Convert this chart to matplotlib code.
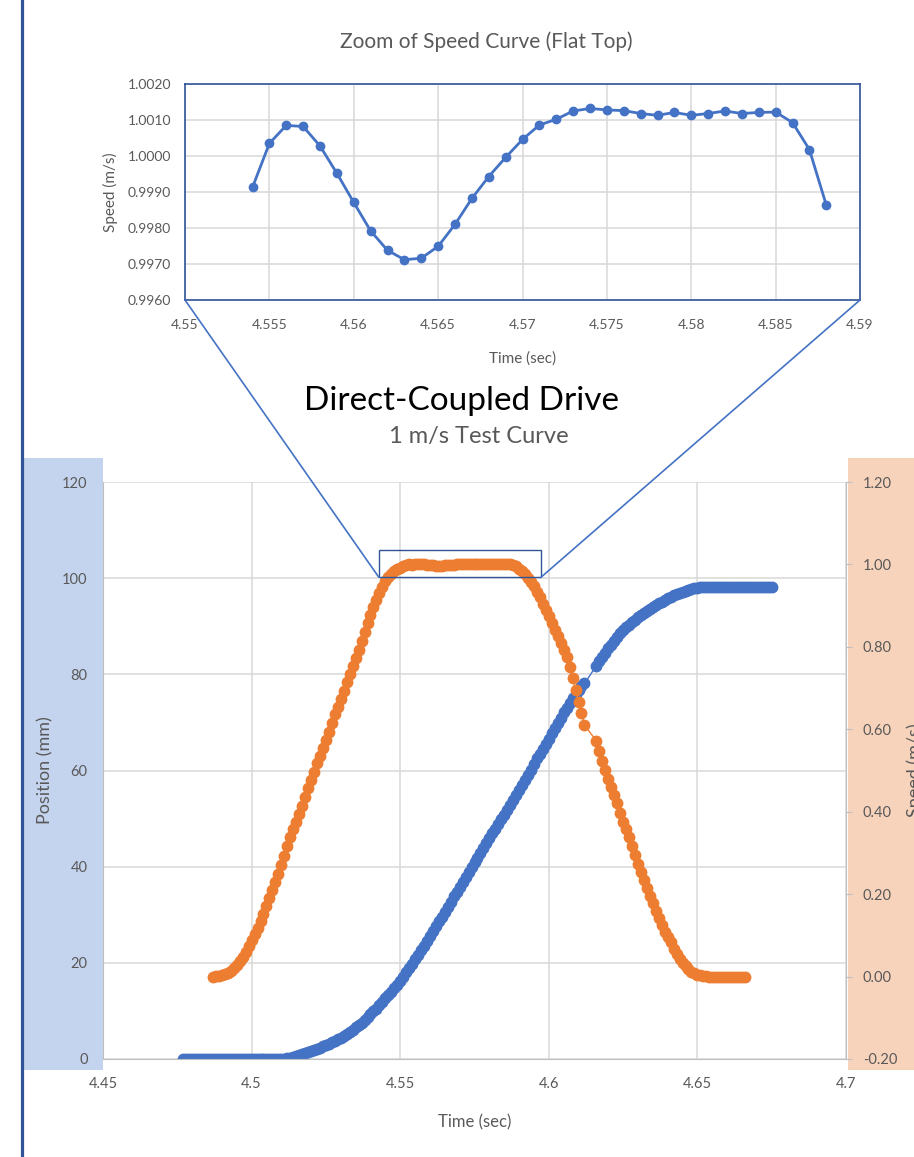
import matplotlib.pyplot as plt
import numpy as np
from matplotlib.patches import Rectangle, ConnectionPatch
from matplotlib.lines import Line2D

plt.rcParams['font.family'] = ['Lato', 'DejaVu Sans']

BLUE = '#4472C4'
ORANGE = '#ED7D31'
GREY = '#595959'
GRID = '#D9D9D9'
AXIS = '#BFBFBF'
FRAME = '#2F5597'

# logged at 1 kHz, a few samples are missing just after 4.612 s
speed_start_a = 4.487
speed_a = [
    0.000, 0.001, 0.002, 0.004, 0.006, 0.009, 0.014, 0.020, 0.028, 0.037,
    0.048, 0.060, 0.074, 0.089, 0.104, 0.119, 0.135, 0.152, 0.171, 0.190,
    0.210, 0.230, 0.250, 0.270, 0.293, 0.316, 0.338, 0.357, 0.376, 0.395,
    0.415, 0.436, 0.457, 0.477, 0.497, 0.517, 0.536, 0.555, 0.574, 0.594,
    0.615, 0.637, 0.655, 0.674, 0.694, 0.714, 0.733, 0.753, 0.772, 0.792,
    0.815, 0.837, 0.857, 0.877, 0.896, 0.914, 0.930, 0.946, 0.959, 0.969,
    0.977, 0.983, 0.988, 0.992, 0.996, 0.999, 1.001,
    # flat top (4.554 .. 4.588), shown in the zoom
    0.99913, 1.00035, 1.00085, 1.00082, 1.00028, 0.99952, 0.99871, 0.99792, 0.99738, 0.99712,
    0.99716, 0.99749, 0.99810, 0.99882, 0.99943, 0.99996, 1.00046, 1.00086, 1.00102, 1.00125,
    1.00132, 1.00128, 1.00126, 1.00118, 1.00113, 1.00121, 1.00113, 1.00118, 1.00125, 1.00118,
    1.00121, 1.00122, 1.00093, 1.00018, 0.99864,
    0.995, 0.990, 0.984, 0.976, 0.968, 0.958, 0.947, 0.934, 0.920, 0.905,
    0.890, 0.874, 0.858, 0.842, 0.826, 0.810, 0.793, 0.776, 0.751, 0.724,
    0.696, 0.667, 0.639, 0.610,
]
speed_start_b = 4.616
speed_b = [
    0.572, 0.548, 0.523, 0.500, 0.480, 0.461, 0.441, 0.420, 0.396, 0.375,
    0.358, 0.338, 0.318, 0.295, 0.273, 0.254, 0.235, 0.216, 0.196, 0.178,
    0.160, 0.142, 0.125, 0.109, 0.095, 0.083, 0.068, 0.054, 0.043, 0.033,
    0.025, 0.018, 0.012, 0.008, 0.005, 0.003, 0.002, 0.001, 0.000,
] + [0.000] * 12

pos_start_a = 4.477
pos_a = [0.0] * 34 + [
    0.1, 0.2, 0.3, 0.5, 0.7, 0.9, 1.1, 1.3, 1.5, 1.7,
    1.9, 2.1, 2.3, 2.6, 2.9, 3.2, 3.5, 3.8, 4.1, 4.4,
    4.8, 5.2, 5.7, 6.1, 6.6, 7.0, 7.5, 8.1, 8.7, 9.3,
    9.9, 10.5, 11.2, 11.9, 12.6, 13.3, 14.0, 14.7, 15.4, 16.2,
    17.1, 18.0, 18.9, 19.8, 20.7, 21.7, 22.7, 23.6, 24.6, 25.6,
    26.6, 27.6, 28.6, 29.6, 30.6, 31.7, 32.7, 33.8, 34.8, 35.8,
    36.9, 37.9, 38.9, 39.9, 40.9, 41.9, 42.9, 43.9, 44.9, 45.9,
    46.9, 47.9, 48.9, 49.9, 50.8, 51.8, 52.8, 53.9, 55.0, 56.0,
    57.0, 58.1, 59.1, 60.2, 61.4, 62.5, 63.5, 64.5, 65.5, 66.6,
    67.7, 68.8, 69.9, 71.0, 72.1, 73.1, 74.1, 75.1, 76.0, 76.8,
    77.5, 78.1,
]
pos_start_b = 4.616
pos_b = [
    81.8, 82.7, 83.6, 84.5, 85.4, 86.2, 87.0, 87.8, 88.6, 89.2,
    89.8, 90.3, 90.9, 91.4, 91.9, 92.4, 92.8, 93.2, 93.6, 94.0,
    94.4, 94.8, 95.1, 95.5, 95.8, 96.1, 96.5, 96.7, 97.0, 97.2,
    97.4, 97.6, 97.8, 97.9, 98.0, 98.1,
] + [98.1] * 24

main_xticks = [4.45, 4.5, 4.55, 4.6, 4.65, 4.7]
main_xlabels = ['4.45', '4.5', '4.55', '4.6', '4.65', '4.7']
pos_ticks = [0, 20, 40, 60, 80, 100, 120]
speed_ticks = [-0.2, 0.0, 0.2, 0.4, 0.6, 0.8, 1.0, 1.2]

inset_xticks = [4.55, 4.555, 4.56, 4.565, 4.57, 4.575, 4.58, 4.585, 4.59]
inset_xlabels = ['4.55', '4.555', '4.56', '4.565', '4.57', '4.575', '4.58', '4.585', '4.59']
inset_yticks = [0.996, 0.997, 0.998, 0.999, 1.000, 1.001, 1.002]
inset_range = (4.554, 4.588)

# region of the main chart that the zoom shows (time, position)
zoom_t = (4.5428, 4.5974)
zoom_pos = (100.2, 105.9)


def sample_times(start, values):
    return np.round(start + 0.001 * np.arange(len(values)), 3)


t_speed = np.concatenate([sample_times(speed_start_a, speed_a),
                          sample_times(speed_start_b, speed_b)])
speed = np.array(speed_a + speed_b)
t_pos = np.concatenate([sample_times(pos_start_a, pos_a),
                        sample_times(pos_start_b, pos_b)])
pos = np.array(pos_a + pos_b)

W, H = 914, 1157
fig = plt.figure(figsize=(W / 100, H / 100), dpi=100)


def fx(px):
    return px / W


def fy(py):
    return 1 - py / H


def box(x0, y0, x1, y1):
    return [fx(x0), fy(y1), fx(x1) - fx(x0), fy(y0) - fy(y1)]


# coloured bands behind the two value axes + the slide edge line
for (x0, x1), c in [((24, 103), '#C5D4EE'), ((848, 914), '#F8D3BC')]:
    fig.add_artist(Rectangle((fx(x0), fy(1070)), fx(x1) - fx(x0), fy(458) - fy(1070),
                             transform=fig.transFigure, color=c, lw=0, zorder=-2))
fig.add_artist(Line2D([fx(22), fx(22)], [0, 1], transform=fig.transFigure,
                      color=FRAME, lw=2.3, zorder=-1))

# ---- main chart
ax = fig.add_axes(box(103, 482, 846, 1059))
ax.plot(t_pos, pos, color=BLUE, lw=1, marker='o', ms=7.5, mec=BLUE, mfc=BLUE)
ax.set_xlim(4.45, 4.7)
ax.set_ylim(0, 120)
ax.set_xticks(main_xticks, main_xlabels)
ax.set_yticks(pos_ticks)
ax.grid(color=GRID, lw=1.1)
ax.set_axisbelow(True)
for s in ['top', 'right']:
    ax.spines[s].set_visible(False)
for s in ['left', 'bottom']:
    ax.spines[s].set_color(AXIS)
ax.tick_params(axis='x', length=0, pad=13, labelsize=10.5, labelcolor=GREY)
ax.tick_params(axis='y', length=0, pad=11, labelsize=10.5, labelcolor=GREY)
ax.set_xlabel('Time (sec)', fontsize=12, color=GREY)
ax.xaxis.set_label_coords(0.5, -0.109)
ax.xaxis.label.set_va('center')
ax.set_ylabel('Position (mm)', fontsize=13, color=GREY)
ax.yaxis.set_label_coords(-0.078, 0.5)
ax.yaxis.label.set_va('center')

ax2 = ax.twinx()
ax2.plot(t_speed, speed, color=ORANGE, lw=1, marker='o', ms=7.5, mec=ORANGE, mfc=ORANGE)
ax2.set_ylim(-0.2, 1.2)
ax2.set_yticks(speed_ticks, [f'{v:.2f}' for v in speed_ticks])
for s in ['top', 'left', 'bottom']:
    ax2.spines[s].set_visible(False)
ax2.spines['right'].set_color(AXIS)
ax2.tick_params(axis='y', length=4, color=AXIS, pad=8, labelsize=10.5, labelcolor=GREY)
ax2.set_ylabel('Speed (m/s)', fontsize=13, color=GREY, rotation=90)
ax2.yaxis.set_label_coords(1.092, 0.5)
ax2.yaxis.label.set_va('center')

ax2.add_patch(Rectangle((zoom_t[0], zoom_pos[0]), zoom_t[1] - zoom_t[0], zoom_pos[1] - zoom_pos[0],
                        transform=ax.transData, fill=False, ec=FRAME, lw=1, zorder=5))

# ---- zoom of the flat top
ins = fig.add_axes(box(185, 84, 860, 300))
sel = (t_speed >= inset_range[0] - 1e-9) & (t_speed <= inset_range[1] + 1e-9)
ins.plot(t_speed[sel], speed[sel], color=BLUE, lw=2, marker='o', ms=6)
ins.set_xlim(4.55, 4.59)
ins.set_ylim(0.996, 1.002)
ins.set_xticks(inset_xticks, inset_xlabels)
ins.set_yticks(inset_yticks, [f'{v:.4f}' for v in inset_yticks])
ins.grid(color=GRID, lw=1.1)
ins.set_axisbelow(True)
for s in ins.spines.values():
    s.set_color(FRAME)
    s.set_linewidth(1.2)
ins.tick_params(axis='x', length=0, pad=14, labelsize=10, labelcolor=GREY)
ins.tick_params(axis='y', length=0, pad=10, labelsize=10, labelcolor=GREY)
ins.set_xlabel('Time (sec)', fontsize=11, color=GREY)
ins.xaxis.set_label_coords(0.5, -0.273)
ins.xaxis.label.set_va('center')
ins.set_ylabel('Speed (m/s)', fontsize=11, color=GREY)
ins.yaxis.set_label_coords(-0.111, 0.5)
ins.yaxis.label.set_va('center')

for corner, t in [((0, 0), zoom_t[0]), ((1, 0), zoom_t[1])]:
    fig.add_artist(ConnectionPatch(xyA=corner, coordsA=ins.transAxes,
                                   xyB=(t, zoom_pos[0]), coordsB=ax.transData,
                                   color=BLUE, lw=1.2))

fig.text(fx(486), fy(42), 'Zoom of Speed Curve (Flat Top)', ha='center', va='center',
         fontsize=15, color=GREY)
fig.text(fx(462), fy(401), 'Direct-Coupled Drive', ha='center', va='center',
         fontsize=24, color='black')
fig.text(fx(479), fy(436), '1 m/s Test Curve', ha='center', va='center',
         fontsize=17, color=GREY)

fig.savefig('out.png', dpi=100)
